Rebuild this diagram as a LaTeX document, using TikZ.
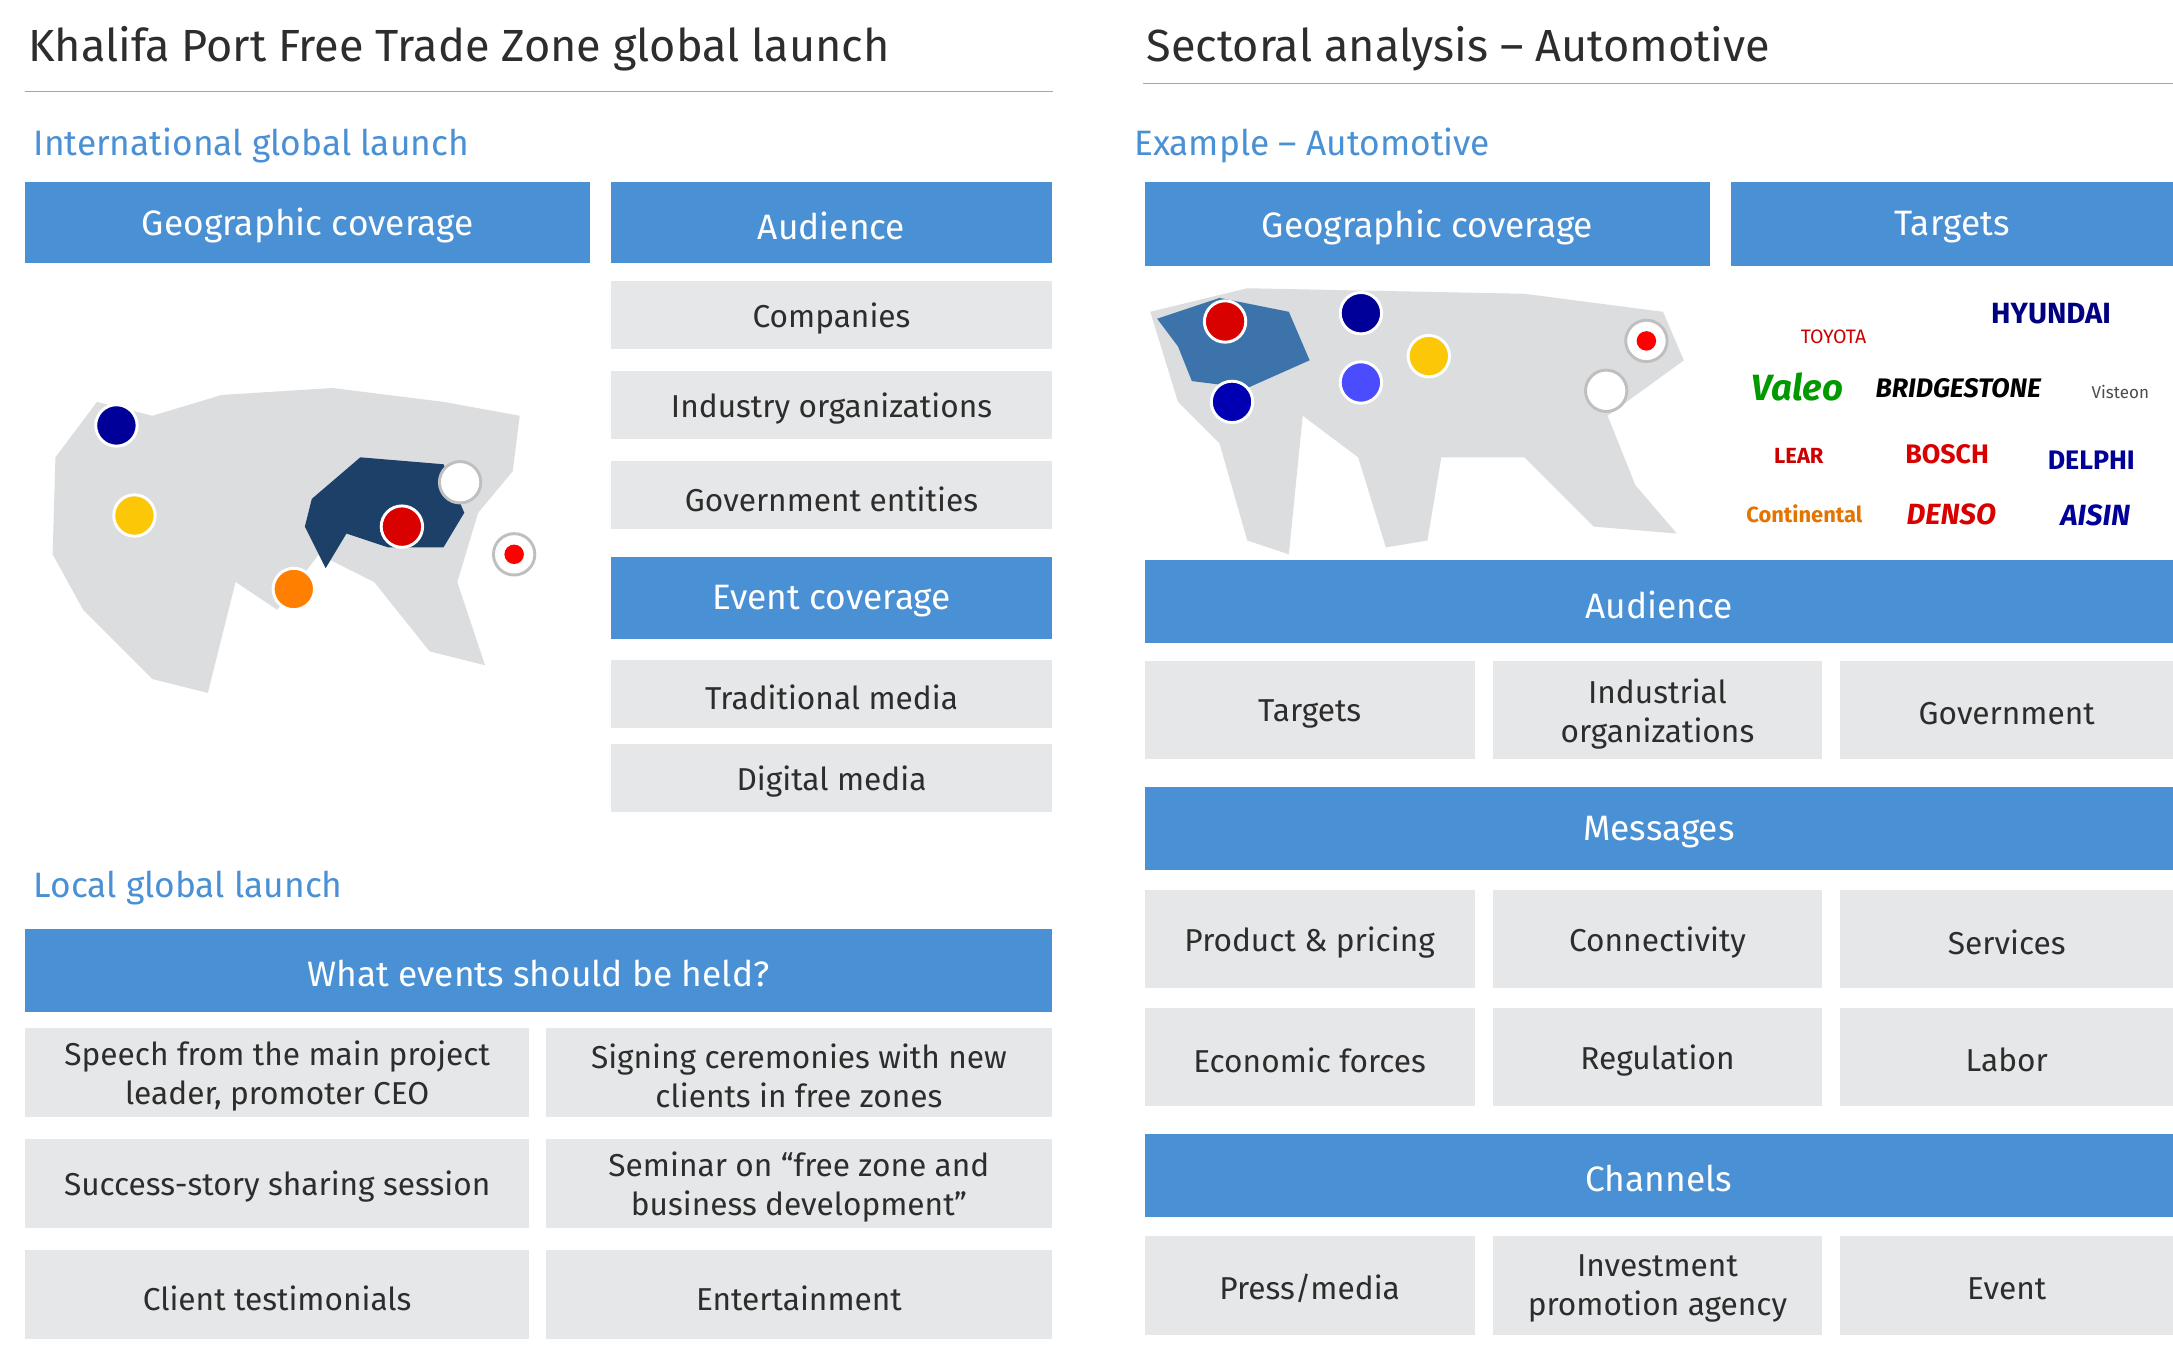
\documentclass[tikz,border=0pt]{standalone}
\usepackage{fontspec}
\setmainfont{Fira Sans}
\definecolor{hdrblue}{RGB}{74,144,212}
\definecolor{cellgray}{RGB}{230,231,232}
\definecolor{mapgray}{RGB}{220,221,223}
\definecolor{mapdark}{RGB}{28,64,104}
\definecolor{txtdark}{RGB}{45,45,45}
\tikzset{
  hdr/.style={fill=hdrblue, text=white, font=\fontsize{14.5}{17}\selectfont, inner sep=0pt, align=center},
  cellbox/.style={fill=cellgray, text=txtdark, font=\fontsize{13}{16}\selectfont, inner sep=0pt, align=center},
  subttl/.style={text=hdrblue, anchor=west, font=\fontsize{14.5}{17}\selectfont, inner sep=0pt},
  mainttl/.style={text=txtdark, anchor=west, font=\fontsize{18.5}{21}\selectfont, inner sep=0pt},
  flag/.style={circle, draw=white, line width=1.2pt, minimum size=17pt, inner sep=0pt},
  logo/.style={font=\fontsize{9}{10}\selectfont\bfseries, inner sep=0pt}
}
% \cell{name}{style}{x1}{y1}{x2}{y2}{text}
\newcommand\cell[7]{%
  \fill[#2] (#3,#4) rectangle (#5,#6);
  \node[#2, fill=none] (#1) at ({(#3+#5)/2},{(#4+#6)/2+2.5}) {#7};}
\begin{document}
\begin{tikzpicture}[x=0.02cm, y=-0.02cm]
	\useasboundingbox[fill=white] (0,0) rectangle (1568,972);
	% left panel
	\node[mainttl] (lttl) at (20,35) {Khalifa Port Free Trade Zone global launch};
	\draw[gray!70] (18,66) -- (760,66);
	\node[subttl] (intl) at (24,105) {International global launch};
	\cell{lgeo}{hdr}{18}{131}{426}{190}{Geographic coverage}
	\cell{laud}{hdr}{441}{131}{759}{190}{Audience}
	\cell{comp}{cellbox}{441}{203}{759}{252}{Companies}
	\cell{indo}{cellbox}{441}{268}{759}{317}{Industry organizations}
	\cell{gove}{cellbox}{441}{333}{759}{382}{Government entities}
	\cell{evcov}{hdr}{441}{402}{759}{461}{Event coverage}
	\cell{trad}{cellbox}{441}{476}{759}{525}{Traditional media}
	\cell{digi}{cellbox}{441}{537}{759}{586}{Digital media}
	% left map
	\fill[mapgray] (40,330) -- (70,290) -- (110,300) -- (160,285) -- (240,280) -- (320,290) -- (375,300) -- (370,340) -- (345,370) -- (330,420) -- (350,480) -- (310,470) -- (270,420) -- (230,400) -- (200,440) -- (170,420) -- (150,500) -- (110,490) -- (60,440) -- (38,400) -- cycle;
	\fill[mapdark] (225,360) -- (260,330) -- (320,335) -- (335,370) -- (320,395) -- (280,395) -- (250,385) -- (235,410) -- (220,380) -- cycle;
	\node[flag, fill=blue!60!black] (uk) at (84,307) {};
	\node[flag, fill=yellow!80!red] (de) at (97,372) {};
	\node[flag, fill=orange] (in) at (212,425) {};
	\node[flag, fill=red!85!black] (cn) at (290,380) {};
	\node[flag, fill=white, draw=gray!50] (kr) at (332,348) {};
	\node[flag, fill=white, draw=gray!50] (jp) at (371,400) {};
	\fill[red] (jp) circle (4pt);
	\node[subttl] (local) at (24,641) {Local global launch};
	\cell{what}{hdr}{18}{670}{759}{730}{What events should be held?}
	\cell{spch}{cellbox}{18}{742}{382}{806}{Speech from the main project\\leader, promoter CEO}
	\cell{sign}{cellbox}{394}{742}{759}{806}{Signing ceremonies with new\\clients in free zones}
	\cell{succ}{cellbox}{18}{822}{382}{886}{Success-story sharing session}
	\cell{semi}{cellbox}{394}{822}{759}{886}{Seminar on “free zone and\\business development”}
	\cell{clnt}{cellbox}{18}{902}{382}{966}{Client testimonials}
	\cell{ente}{cellbox}{394}{902}{759}{966}{Entertainment}
	% right panel
	\node[mainttl] (rttl) at (827,35) {Sectoral analysis – Automotive};
	\draw[gray!70] (825,60) -- (1568,60);
	\node[subttl] (exmp) at (818,105) {Example – Automotive};
	\cell{rgeo}{hdr}{826}{131}{1234}{192}{Geographic coverage}
	\cell{rtgt}{hdr}{1249}{131}{1568}{192}{Targets}
	% right map
	\fill[mapgray] (830,225) -- (900,208) -- (1000,210) -- (1100,212) -- (1200,225) -- (1215,260) -- (1160,300) -- (1180,350) -- (1210,385) -- (1150,380) -- (1100,330) -- (1040,330) -- (1030,390) -- (1000,395) -- (980,330) -- (940,300) -- (930,400) -- (900,390) -- (880,320) -- (850,290) -- cycle;
	\fill[hdrblue!80!black] (835,230) -- (880,215) -- (930,225) -- (945,260) -- (900,280) -- (860,275) -- (850,250) -- cycle;
	\node[flag, fill=red!85!black] (ca) at (884,232) {};
	\node[flag, fill=blue!60!black] (uk2) at (982,226) {};
	\node[flag, fill=blue!70!black] (us) at (889,290) {};
	\node[flag, fill=blue!70!white] (fr) at (982,276) {};
	\node[flag, fill=yellow!80!red] (de2) at (1031,257) {};
	\node[flag, fill=white, draw=gray!50] (kr2) at (1159,282) {};
	\node[flag, fill=white, draw=gray!50] (jp2) at (1188,246) {};
	\fill[red] (jp2) circle (4pt);
	% logos
	\node[logo, text=red!80!black, font=\fontsize{8}{9}\selectfont] (toyota) at (1323,243) {TOYOTA};
	\node[logo, text=blue!50!black, font=\fontsize{12}{12}\selectfont\bfseries] (hyun) at (1480,226) {HYUNDAI};
	\node[logo, text=green!60!black, font=\fontsize{15}{15}\selectfont\bfseries\itshape] (valeo) at (1297,279) {Valeo};
	\node[logo, text=black, font=\fontsize{11}{11}\selectfont\bfseries\itshape] (bridg) at (1413,280) {BRIDGESTONE};
	\node[logo, text=gray!60!black, font=\fontsize{7}{8}\selectfont] (vist) at (1530,283) {Visteon};
	\node[logo, text=red!80!black] (lear) at (1298,329) {LEAR};
	\node[logo, text=red!85!black, font=\fontsize{11}{11}\selectfont\bfseries] (bosch) at (1405,328) {BOSCH};
	\node[logo, text=blue!60!black, font=\fontsize{11}{11}\selectfont\bfseries] (delphi) at (1509,332) {DELPHI};
	\node[logo, text=orange!90!black] (conti) at (1302,371) {Continental};
	\node[logo, text=red!85!black, font=\fontsize{12}{12}\selectfont\bfseries\itshape] (denso) at (1408,371) {DENSO};
	\node[logo, text=blue!60!black, font=\fontsize{12}{12}\selectfont\bfseries\itshape] (aisin) at (1512,372) {AISIN};
	\cell{raud}{hdr}{826}{404}{1568}{464}{Audience}
	\cell{atgt}{cellbox}{826}{477}{1064}{548}{Targets}
	\cell{aind}{cellbox}{1077}{477}{1315}{548}{Industrial\\organizations}
	\cell{agov}{cellbox}{1328}{477}{1568}{548}{Government}
	\cell{msgs}{hdr}{826}{568}{1568}{628}{Messages}
	\cell{prod}{cellbox}{826}{642}{1064}{713}{Product \& pricing}
	\cell{conn}{cellbox}{1077}{642}{1315}{713}{Connectivity}
	\cell{serv}{cellbox}{1328}{642}{1568}{713}{Services}
	\cell{econ}{cellbox}{826}{727}{1064}{798}{Economic forces}
	\cell{regu}{cellbox}{1077}{727}{1315}{798}{Regulation}
	\cell{labo}{cellbox}{1328}{727}{1568}{798}{Labor}
	\cell{chan}{hdr}{826}{818}{1568}{878}{Channels}
	\cell{pres}{cellbox}{826}{892}{1064}{963}{Press/media}
	\cell{inve}{cellbox}{1077}{892}{1315}{963}{Investment\\promotion agency}
	\cell{evnt}{cellbox}{1328}{892}{1568}{963}{Event}
\end{tikzpicture}
\end{document}
